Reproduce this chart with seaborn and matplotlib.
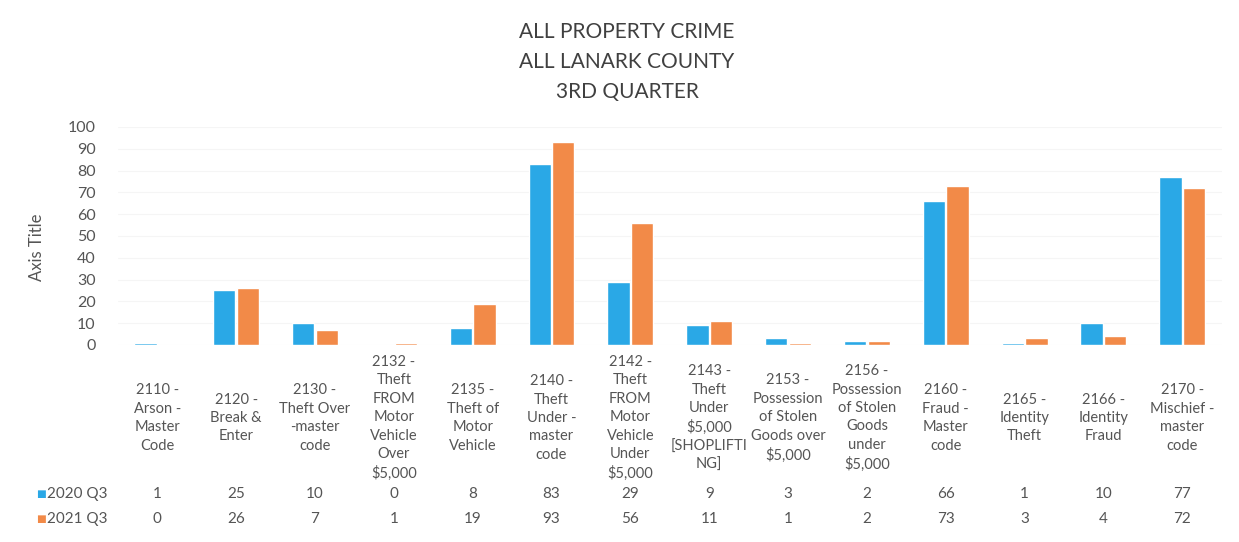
import matplotlib
matplotlib.use("Agg")
import matplotlib.pyplot as plt
import matplotlib.transforms as mtransforms
import pandas as pd
import seaborn as sns

categories = [
    "2110 -\nArson -\nMaster\nCode",
    "2120 -\nBreak &\nEnter",
    "2130 -\nTheft Over\n-master\ncode",
    "2132 -\nTheft\nFROM\nMotor\nVehicle\nOver\n$5,000",
    "2135 -\nTheft of\nMotor\nVehicle",
    "2140 -\nTheft\nUnder -\nmaster\ncode",
    "2142 -\nTheft\nFROM\nMotor\nVehicle\nUnder\n$5,000",
    "2143 -\nTheft\nUnder\n$5,000\n[SHOPLIFTI\nNG]",
    "2153 -\nPossession\nof Stolen\nGoods over\n$5,000",
    "2156 -\nPossession\nof Stolen\nGoods\nunder\n$5,000",
    "2160 -\nFraud -\nMaster\ncode",
    "2165 -\nIdentity\nTheft",
    "2166 -\nIdentity\nFraud",
    "2170 -\nMischief -\nmaster\ncode",
]
q3_2020 = [1, 25, 10, 0, 8, 83, 29, 9, 3, 2, 66, 1, 10, 77]
q3_2021 = [0, 26, 7, 1, 19, 93, 56, 11, 1, 2, 73, 3, 4, 72]
series = ["2020 Q3", "2021 Q3"]
colors = ["#2AA8E6", "#F28A48"]

df = pd.DataFrame({
    "category": categories * 2,
    "count": q3_2020 + q3_2021,
    "series": [series[0]] * len(categories) + [series[1]] * len(categories),
})

sns.set_theme(style="white")
plt.rcParams["font.family"] = ["Lato", "DejaVu Sans"]
TXT = "#555555"

fig = plt.figure(figsize=(12.39, 5.42), dpi=100)
ax = fig.add_axes([0.0952, 0.3635, 0.8908, 0.4022])

sns.barplot(data=df, x="category", y="count", hue="series", palette=colors,
            width=0.6, gap=0.06, ax=ax, legend=False, saturation=1)

ax.set_ylim(0, 100)
ax.set_xlim(-0.5, len(categories) - 0.5)
ax.set_yticks(range(0, 101, 10))
ax.yaxis.grid(True, color="#f5f5f5", lw=0.8)
ax.set_axisbelow(True)
ax.tick_params(axis="y", length=0, labelsize=11.5, labelcolor=TXT, pad=16)
ax.set_xticks([])
ax.set_xlabel("")
ax.set_ylabel("Axis Title", fontsize=12, color=TXT)
ax.yaxis.set_label_coords(-0.066, 0.45)
for s in ax.spines.values():
    s.set_visible(False)

# data table below the axes
trans = mtransforms.blended_transform_factory(ax.transData, fig.transFigure)
for i, cat in enumerate(categories):
    ax.text(i, 1 - 418 / 542, cat, transform=trans, ha="center", va="center",
            fontsize=10.5, color=TXT, linespacing=1.4)
    ax.text(i, 1 - 494 / 542, str(q3_2020[i]), transform=trans, ha="center",
            va="center", fontsize=11, color=TXT)
    ax.text(i, 1 - 519 / 542, str(q3_2021[i]), transform=trans, ha="center",
            va="center", fontsize=11, color=TXT)

for row, (name, col) in enumerate(zip(series, colors)):
    y = 1 - (494 + 25 * row) / 542
    fig.text(36 / 1239, y, "\u25A0", color=col, fontsize=7.5, ha="left", va="center",
             family=["DejaVu Sans"])
    fig.text(47 / 1239, y, name, color=TXT, fontsize=11, ha="left", va="center")

fig.text(627 / 1239, 1 - 62 / 542, "ALL PROPERTY CRIME\nALL LANARK COUNTY\n3RD QUARTER",
         ha="center", va="center", fontsize=15, color="#404040", linespacing=1.6)

fig.savefig("out.png", dpi=100)
